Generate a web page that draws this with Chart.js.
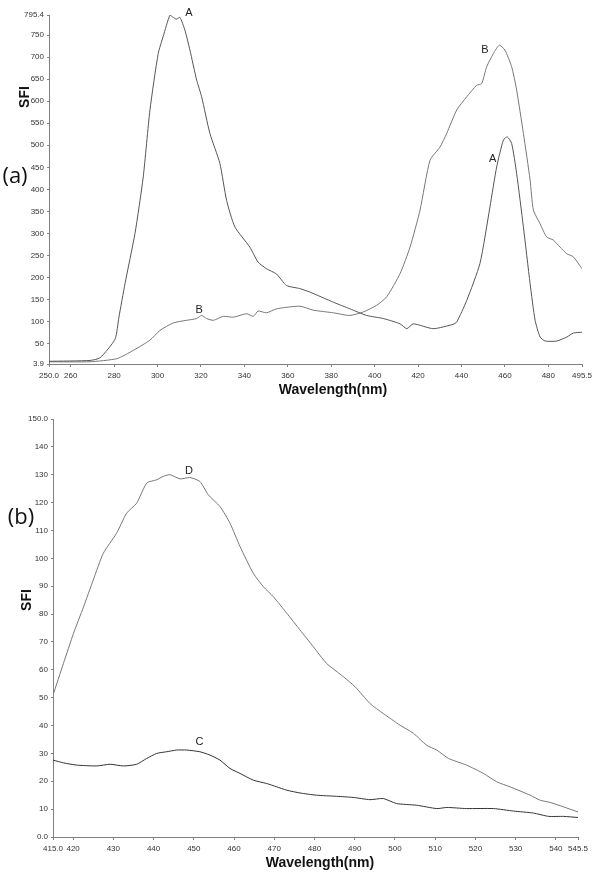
<!DOCTYPE html>
<html>
<head>
<meta charset="utf-8">
<script src="https://cdn.jsdelivr.net/npm/chart.js@4/dist/chart.umd.min.js"></script>
<style>
  html, body { margin: 0; padding: 0; background: #fff; }
  canvas { display: block; }
</style>
</head>
<body>
<canvas id="chartA" width="600" height="400"></canvas>
<canvas id="chartB" width="600" height="475"></canvas>
<script>
// ── Panel (a): excitation / emission, curves A and B ────────────────────────
const TOP_A_WL  = [250, 268.9, 273.5, 280.4, 282.2, 285, 289.6, 293.4, 296.5, 300.3, 302.6, 305.7, 307.2, 308.7, 310.3, 312.6, 314.9, 318, 320.3, 324.1, 328.7, 331.8, 335.6, 342.5, 346.3, 350.2, 354.8, 359.4, 365.5, 370.2, 381, 388.6, 396.3, 404, 411.7, 414.8, 417.8, 427, 436.2, 437.8, 442.4, 448.5, 453.1, 456.2, 459.3, 461.1, 463.1, 465.4, 468.5, 471.6, 473.9, 476.2, 478.5, 483.9, 488.5, 491.5, 495.5];
const TOP_A_SFI = [10, 12, 18, 60, 110, 186, 300, 428, 580, 708, 747, 795, 790, 786, 790, 761, 716, 648, 610, 527, 459, 375, 315, 269, 235, 220, 208, 182, 175, 167, 144, 129, 114, 107, 95, 84, 95, 84, 94, 99, 148, 232, 360, 451, 512, 519, 504, 436, 315, 186, 103, 65, 56, 56, 65, 74, 76];

const TOP_B_WL  = [250, 268.9, 281.2, 288.9, 296.5, 301.1, 307.2, 313.4, 318, 320.3, 322.6, 325.7, 330.3, 334.9, 341, 344.1, 346.3, 350.2, 354.8, 365.5, 371.7, 381, 388.6, 394.8, 400.9, 405.5, 411.7, 416.3, 420.9, 425.5, 430.1, 433.2, 437.8, 442.4, 447, 449.3, 451.6, 454.7, 457.4, 460, 463.1, 465.4, 468.5, 471.6, 473.1, 476.2, 479.2, 482.3, 485.4, 488.5, 491.5, 495.5];
const TOP_B_SFI = [9, 9, 16, 35, 58, 80, 97, 103, 107, 114, 107, 103, 112, 110, 118, 112, 124, 120, 129, 135, 126, 120, 114, 122, 137, 156, 209, 269, 353, 466, 496, 527, 580, 610, 636, 640, 678, 708, 727, 716, 678, 625, 527, 421, 353, 322, 292, 285, 269, 254, 247, 220];

const TOP_X_TICKS  = [250, 260, 280, 300, 320, 340, 360, 380, 400, 420, 440, 460, 480, 495.5];
const TOP_X_LABELS = ['250.0', '260', '280', '300', '320', '340', '360', '380', '400', '420', '440', '460', '480', '495.5'];
const TOP_Y_TICKS  = [3.9, 50, 100, 150, 200, 250, 300, 350, 400, 450, 500, 550, 600, 650, 700, 750, 795.4];
const TOP_Y_LABELS = ['3.9', '50', '100', '150', '200', '250', '300', '350', '400', '450', '500', '550', '600', '650', '700', '750', '795.4'];

const TOP_CURVE_TEXT = ['A', 'B', 'B', 'A'];
const TOP_CURVE_AT_X = [314.5, 319.2, 450.8, 454.4];
const TOP_CURVE_AT_Y = [800, 127, 716, 468];

// ── Panel (b): curves C and D ───────────────────────────────────────────────
const BOT_D_WL  = [415, 417.6, 420.1, 422.6, 425, 427.5, 430.8, 433.3, 435.8, 438.3, 440.8, 442.4, 444.1, 446.6, 449, 451.5, 453.6, 456.5, 459, 461.5, 464.8, 467.3, 469.8, 473.1, 476.4, 479.7, 483, 487.2, 490.1, 493.8, 497.1, 501.3, 504.6, 507.9, 510.4, 513.3, 517.8, 522, 525.3, 528.6, 533.6, 536.1, 538.6, 541.9, 545.5];
const BOT_D_SFI = [50.9, 62.3, 73.1, 82.6, 92.2, 101.8, 109, 116.2, 119.8, 127, 128.2, 129.4, 130, 128.5, 129, 127.6, 122.8, 118.6, 112.6, 104.2, 94.6, 89.8, 86.2, 80.3, 74.3, 68.3, 62.3, 57.5, 53.9, 47.9, 44.3, 40.1, 37.2, 32.9, 31.2, 28.2, 25.8, 22.8, 19.8, 18, 15, 13.2, 12.4, 10.8, 9];

const BOT_C_WL  = [415, 417.6, 420.9, 425.9, 429.2, 432.5, 435.8, 438.3, 440.8, 443.3, 445.7, 448.2, 451.5, 454, 456.5, 459, 461.5, 464.8, 468.1, 470.6, 473.1, 476.4, 480.5, 485.5, 489.6, 493.8, 497.1, 500.4, 505.4, 510.4, 512.9, 517.8, 524.5, 529.5, 534.4, 538.2, 541.9, 545.5];
const BOT_C_SFI = [27.6, 26.6, 25.8, 25.5, 26.1, 25.5, 26.1, 28.2, 30, 30.6, 31.2, 31.2, 30.6, 29.4, 27.6, 24.6, 22.8, 20.4, 19.2, 18, 16.8, 15.8, 15, 14.6, 14.2, 13.4, 13.8, 12, 11.4, 10.2, 10.6, 10.2, 10.2, 9.3, 8.6, 7.4, 7.4, 7];

const BOT_X_TICKS  = [415, 420, 430, 440, 450, 460, 470, 480, 490, 500, 510, 520, 530, 540, 545.5];
const BOT_X_LABELS = ['415.0', '420', '430', '440', '450', '460', '470', '480', '490', '500', '510', '520', '530', '540', '545.5'];
const BOT_Y_TICKS  = [0, 10, 20, 30, 40, 50, 60, 70, 80, 90, 100, 110, 120, 130, 140, 150];
const BOT_Y_LABELS = ['0.0', '10', '20', '30', '40', '50', '60', '70', '80', '90', '100', '110', '120', '130', '140', '150.0'];

const BOT_CURVE_TEXT = ['D', 'C'];
const BOT_CURVE_AT_X = [448.8, 451.4];
const BOT_CURVE_AT_Y = [131.2, 34.1];

// ── Style ───────────────────────────────────────────────────────────────────
const AXIS_COLOR = '#808080';
const TICK_FONT = { family: "'Liberation Sans Narrow', 'Arial Narrow', 'Liberation Sans', sans-serif", size: 8 };
const TITLE_FONT = "bold 14px 'Liberation Sans', Arial, sans-serif";
const PANEL_FONT = "22px 'Open Sans', 'Noto Sans', sans-serif";
const CURVE_FONT = "11px 'Liberation Sans', Arial, sans-serif";

const zip = (xs, ys) => xs.map((x, i) => ({ x, y: ys[i] }));

// draws panel tag, axis titles and curve letters
const panelText = {
  id: 'panelText',
  afterDraw(chart, args, o) {
    const ctx = chart.ctx;
    const { x: sx, y: sy } = chart.scales;
    ctx.save();
    ctx.fillStyle = '#111';
    ctx.textAlign = 'center';
    ctx.textBaseline = 'middle';

    ctx.font = PANEL_FONT;
    ctx.fillText(o.panel, o.panelX, o.panelY);

    ctx.font = TITLE_FONT;
    ctx.fillText(o.xTitle, o.xTitleX, o.xTitleY);
    ctx.save();
    ctx.translate(o.yTitleX, o.yTitleY);
    ctx.rotate(-Math.PI / 2);
    ctx.fillText(o.yTitle, 0, 0);
    ctx.restore();

    ctx.font = CURVE_FONT;
    ctx.fillStyle = '#222';
    o.text.forEach((t, i) => {
      ctx.fillText(t, sx.getPixelForValue(o.atX[i]), sy.getPixelForValue(o.atY[i]));
    });
    ctx.restore();
  },
};

function fixedTicks(values) {
  return scale => { scale.ticks = values.map(value => ({ value })); };
}

function makeAxis(min, max, tickValues, tickLabels, size, isX) {
  return {
    type: 'linear',
    min,
    max,
    afterBuildTicks: fixedTicks(tickValues),
    afterFit: scale => {
      if (isX) scale.height = size; else scale.width = size;
    },
    border: { display: true, color: AXIS_COLOR, width: 1 },
    grid: { display: true, drawOnChartArea: false, drawTicks: true, tickLength: isX ? 3 : 2, color: AXIS_COLOR },
    ticks: {
      autoSkip: false,
      maxRotation: 0,
      minRotation: 0,
      padding: isX ? 4 : 3,
      color: '#333',
      font: TICK_FONT,
      callback: (v, i) => tickLabels[i],
    },
  };
}

function makeChart(id, datasets, axes, padding, text) {
  return new Chart(document.getElementById(id), {
    type: 'line',
    data: { datasets },
    options: {
      responsive: false,
      animation: false,
      events: [],
      layout: { padding },
      elements: { point: { radius: 0 }, line: { borderWidth: 1, tension: 0.2 } },
      plugins: {
        legend: { display: false },
        tooltip: { enabled: false },
        panelText: text,
      },
      scales: axes,
    },
    plugins: [panelText],
  });
}

makeChart('chartA',
  [
    { data: zip(TOP_A_WL, TOP_A_SFI), borderColor: '#555555' },
    { data: zip(TOP_B_WL, TOP_B_SFI), borderColor: '#777777' },
  ],
  {
    x: makeAxis(250, 495.5, TOP_X_TICKS, TOP_X_LABELS, 36, true),
    y: makeAxis(3.9, 795.4, TOP_Y_TICKS, TOP_Y_LABELS, 49, false),
  },
  { top: 15, right: 18, left: 0, bottom: 0 },
  {
    panel: '(a)', panelX: 15, panelY: 177,
    xTitle: 'Wavelength(nm)', xTitleX: 333, xTitleY: 390,
    yTitle: 'SFI', yTitleX: 25, yTitleY: 97,
    text: TOP_CURVE_TEXT, atX: TOP_CURVE_AT_X, atY: TOP_CURVE_AT_Y,
  });

makeChart('chartB',
  [
    { data: zip(BOT_D_WL, BOT_D_SFI), borderColor: '#777777' },
    { data: zip(BOT_C_WL, BOT_C_SFI), borderColor: '#333333' },
  ],
  {
    x: makeAxis(415, 545.5, BOT_X_TICKS, BOT_X_LABELS, 38, true),
    y: makeAxis(0, 150, BOT_Y_TICKS, BOT_Y_LABELS, 53, false),
  },
  { top: 19, right: 22, left: 0, bottom: 0 },
  {
    panel: '(b)', panelX: 21, panelY: 118,
    xTitle: 'Wavelength(nm)', xTitleX: 320, xTitleY: 463,
    yTitle: 'SFI', yTitleX: 27, yTitleY: 200,
    text: BOT_CURVE_TEXT, atX: BOT_CURVE_AT_X, atY: BOT_CURVE_AT_Y,
  });
</script>
</body>
</html>
